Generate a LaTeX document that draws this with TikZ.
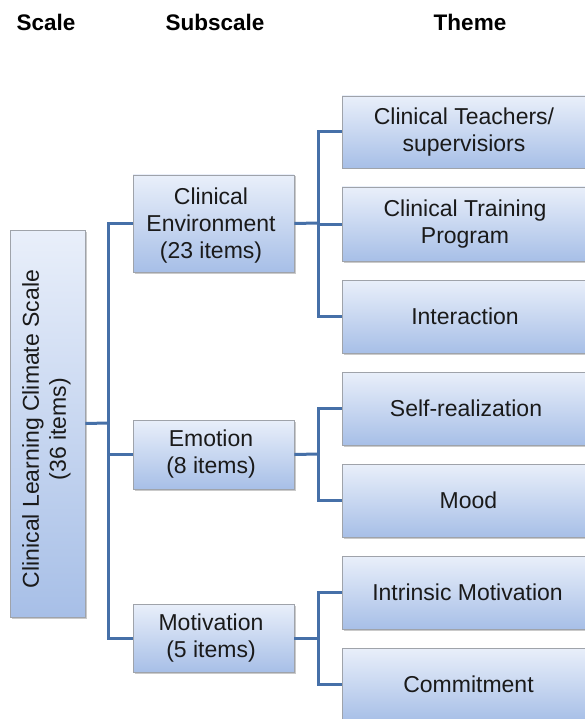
\documentclass[tikz,border=0pt]{standalone}
\usepackage{fontspec}
\setmainfont{Liberation Sans}
\usetikzlibrary{shadows}
\definecolor{boxtop}{HTML}{E9EFFA}
\definecolor{boxbot}{HTML}{A7BFE7}
\definecolor{boxline}{HTML}{9FA3AA}
\definecolor{conncol}{HTML}{4670A8}
\definecolor{txt}{HTML}{1A1A1A}
\tikzset{
  box/.style={draw=boxline, line width=0.6pt, top color=boxtop, bottom color=boxbot,
    drop shadow={shadow xshift=1.5pt, shadow yshift=-1.5pt, opacity=0.35, fill=black!60},
    align=center, text=txt, font=\fontsize{23}{27}\selectfont, inner sep=0pt},
  conn/.style={draw=conncol, line width=3pt},
  head/.style={font=\fontsize{22.5}{27}\selectfont\bfseries, anchor=base, text=black}
}
\begin{document}
\begin{tikzpicture}[x=1pt,y=-1pt]
\useasboundingbox (0,0) rectangle (585,719);
% headers
\node[head] (h1) at (46,31) {Scale};
\node[head] (h2) at (215,31) {Subscale};
\node[head] (h3) at (470,31) {Theme};
% scale
\node[box, minimum width=75pt, minimum height=387pt] (scale) at (47.5,423.5)
  {};
\node[rotate=90, align=center, text=txt, font=\fontsize{23}{27}\selectfont] (scaletxt) at (46.5,429) {Clinical Learning Climate Scale\\(36 items)};
% subscales
\node[box, minimum width=161pt, minimum height=97pt, text depth=0pt] (env) at (213.5,223.5) {\hspace*{-5pt}Clinical\\\hspace*{-5pt}Environment\\\hspace*{-5pt}(23 items)};
\node[box, minimum width=161pt, minimum height=69pt] (emo) at (213.5,454.5) {\hspace*{-5pt}Emotion\\\hspace*{-5pt}(8 items)};
\node[box, minimum width=161pt, minimum height=68pt] (mot) at (213.5,638) {\hspace*{-5pt}Motivation\\\hspace*{-5pt}(5 items)};
% themes
\node[box, minimum width=258pt, minimum height=72pt] (t1) at (471,132) {\hspace*{-14pt}Clinical Teachers/\\\hspace*{-14pt}supervisiors};
\node[box, minimum width=258pt, minimum height=74pt] (t2) at (471,224) {\hspace*{-12pt}Clinical Training\\\hspace*{-12pt}Program};
\node[box, minimum width=258pt, minimum height=73pt] (t3) at (471,316.5) {\hspace*{-12pt}Interaction};
\node[box, minimum width=258pt, minimum height=73pt] (t4) at (471,408.5) {\hspace*{-10pt}Self-realization};
\node[box, minimum width=258pt, minimum height=73pt] (t5) at (471,500.5) {\hspace*{-5pt}Mood};
\node[box, minimum width=258pt, minimum height=73pt] (t6) at (471,592.5) {\hspace*{-7pt}Intrinsic Motivation};
\node[box, minimum width=258pt, minimum height=73pt] (t7) at (471,684.5) {\hspace*{-5pt}Commitment};
% junctions
\coordinate (j1) at (108,423);
\coordinate (j2) at (318,223);
\coordinate (j3) at (318,454);
\coordinate (j4) at (318,638);
% connectors
\draw[conn] (scale.east) -- (j1);
\draw[conn] (env.west) -| (j1);
\draw[conn] (emo.west) -| (j1);
\draw[conn] (mot.west) -| (j1);
\draw[conn] (env.east) -- (j2);
\draw[conn] (t1.west) -| (j2);
\draw[conn] (t2.west) -| (j2);
\draw[conn] (t3.west) -| (j2);
\draw[conn] (emo.east) -- (j3);
\draw[conn] (t4.west) -| (j3);
\draw[conn] (t5.west) -| (j3);
\draw[conn] (mot.east) -- (j4);
\draw[conn] (t6.west) -| (j4);
\draw[conn] (t7.west) -| (j4);
\end{tikzpicture}
\end{document}
